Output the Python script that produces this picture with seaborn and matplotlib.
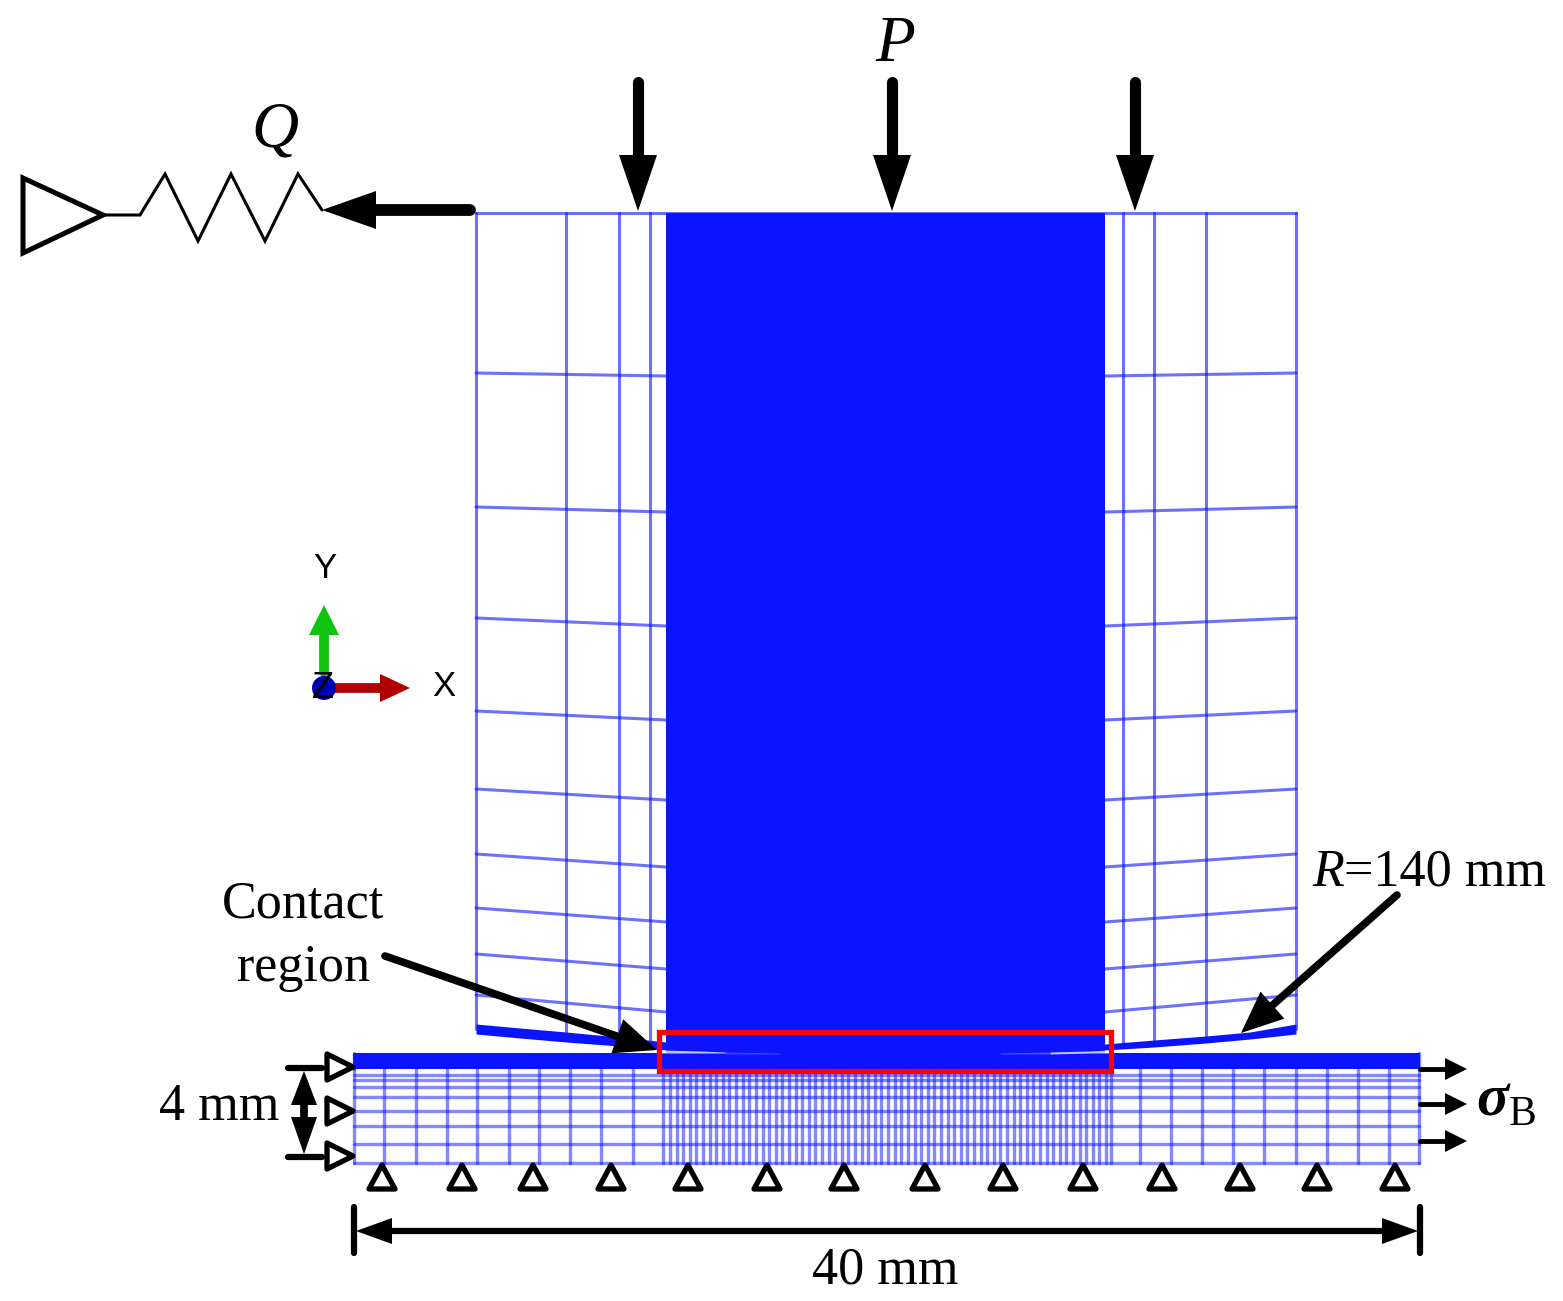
#fe model sketch: cylinder on plate, fretting setup
import numpy as np
import pandas as pd
import seaborn as sns
import matplotlib.pyplot as plt
from matplotlib.patches import Polygon, Rectangle, Circle

# cylinder mesh (pixel positions)
cyl_left_x = [476, 566, 619, 650, 666]
cyl_right_x = [1105, 1123, 1154, 1206, 1296]
cyl_left_bottom = [1029, 1036, 1041, 1044, 1046]
cyl_right_bottom = [1046, 1044, 1042, 1038, 1029]
cyl_rows_outer = [373, 507, 618, 711, 789, 854, 908, 954, 995]
cyl_rows_inner = [376, 512, 626, 720, 800, 867, 922, 969, 1012]
cyl_top = 213

band_x = [476, 520, 566, 619, 666, 690, 740, 1040, 1105, 1154, 1206, 1250, 1296]
band_top = [1024, 1028, 1032, 1037, 1042, 1046, 1049, 1049, 1044, 1040, 1036, 1032, 1024]
band_bottom = [1034, 1038, 1042, 1046, 1050, 1052, 1053, 1053, 1050, 1047, 1043, 1039, 1034]

# plate mesh
plate_rows = [1053, 1069, 1075, 1080, 1087, 1097, 1111, 1126, 1144, 1163]
plate_cols_left = [354, 384, 416, 447, 477, 509, 539, 570, 601, 633]
plate_cols_fine = [663, 670, 677, 683, 690, 696, 703, 710, 716, 723, 729, 736, 743, 749, 756,
                   763, 769, 776, 782, 789, 796, 802, 809, 815, 822, 829, 835, 842, 848, 855,
                   862, 868, 875, 881, 888, 895, 901, 908, 915, 921, 928, 934, 941, 948, 954,
                   961, 967, 974, 981, 987, 994, 1000, 1007, 1014, 1020, 1027, 1033, 1040, 1047,
                   1053, 1060, 1066, 1073, 1080, 1086, 1093, 1099, 1106, 1111]
plate_cols_right = [1140, 1171, 1202, 1233, 1264, 1296, 1327, 1358, 1389, 1419]

# supports and loads
bottom_supports = [382, 462, 533, 611, 688, 767, 844, 925, 1003, 1083, 1162, 1240, 1317, 1395]
left_supports = [1067, 1111, 1156]
stress_arrows = [1069, 1104, 1141]
load_arrows = [638, 892, 1135]
spring_x = [103, 140, 165, 198, 231, 265, 298, 322]
spring_y = [215, 215, 174, 241, 174, 241, 174, 210]

BLUE = '#0b14ff'

sns.set_theme(style='white')
plt.rcParams['font.family'] = ['Liberation Serif', 'DejaVu Serif']
plt.rcParams['text.color'] = 'black'

fig = plt.figure(figsize=(15.63, 13.01), dpi=100)
ax = fig.add_axes([0, 0, 1, 1])
ax.set_xlim(0, 1563)
ax.set_ylim(1301, 0)
ax.axis('off')


def draw_mesh(segments, lw=1.8, alpha=0.6):
    # segments = list of (x0, y0, x1, y1), one seaborn call with units
    rows = []
    for i, (x0, y0, x1, y1) in enumerate(segments):
        rows.append({'x': x0, 'y': y0, 'seg': i})
        rows.append({'x': x1, 'y': y1, 'seg': i})
    df = pd.DataFrame(rows)
    sns.lineplot(data=df, x='x', y='y', units='seg', estimator=None, sort=False, color=BLUE,
                 linewidth=lw, alpha=alpha, legend=False, ax=ax, zorder=1)


def arrow(x0, y0, x1, y1, lw, head_len, head_half, color='black', z=6):
    # line with a filled triangle head that ends at (x1, y1)
    d = np.array([x1 - x0, y1 - y0], dtype=float)
    d = d / np.hypot(*d)
    n = np.array([-d[1], d[0]])
    tip = np.array([x1, y1], dtype=float)
    base = tip - d * head_len
    ax.plot([x0, base[0]], [y0, base[1]], color=color, lw=lw, solid_capstyle='round', zorder=z)
    ax.add_patch(Polygon([tip, base + n * head_half, base - n * head_half], closed=True,
                         fc=color, ec='none', zorder=z))


# cylinder
segs = []
for x, yb in zip(cyl_left_x[:-1], cyl_left_bottom[:-1]):
    segs.append((x, cyl_top, x, yb))
for x, yb in zip(cyl_right_x[1:], cyl_right_bottom[1:]):
    segs.append((x, cyl_top, x, yb))
segs.append((476, cyl_top, 1296, cyl_top))
for a, b in zip(cyl_rows_outer, cyl_rows_inner):
    segs.append((476, a, 666, b))
    segs.append((1105, b, 1296, a))
draw_mesh(segs, lw=2.2, alpha=0.6)
ax.add_patch(Rectangle((666, 213), 439, 840, fc=BLUE, ec='none', zorder=2))
ax.fill_between(band_x, band_top, band_bottom, color=BLUE, lw=0, zorder=2)

# plate
ax.add_patch(Rectangle((353, 1053), 1067, 16, fc=BLUE, ec='none', zorder=2))
segs = []
for y in plate_rows[2:]:
    segs.append((354, y, 1419, y))
for x in plate_cols_left + plate_cols_fine + plate_cols_right:
    segs.append((x, 1069, x, 1163))
segs.append((354, 1053, 354, 1069))
segs.append((1419, 1053, 1419, 1069))
draw_mesh(segs, lw=2.4, alpha=0.5)

# contact gap, fades towards the middle
ax.fill_between([660, 700, 725], [1050, 1051, 1052], [1053, 1053, 1053], color='white', alpha=0.75, lw=0, zorder=3)
ax.fill_between([725, 780], [1052, 1053], [1054, 1054], color='white', alpha=0.2, lw=0, zorder=3)
ax.fill_between([1000, 1050], [1053, 1052], [1054, 1054], color='white', alpha=0.25, lw=0, zorder=3)
ax.fill_between([1050, 1090, 1110], [1052, 1051, 1050], [1054, 1053, 1053], color='white', alpha=0.75, lw=0, zorder=3)

# contact region box
ax.add_patch(Rectangle((659, 1032), 452, 39, fc='none', ec='#ff0000', lw=3.8, zorder=5, joinstyle='miter'))

# spring + fixed end
ax.add_patch(Polygon([(23, 178), (23, 253), (103, 215)], closed=True, fc='white', ec='black', lw=3.6, zorder=4))
ax.plot(spring_x, spring_y, color='black', lw=2.2, solid_joinstyle='miter', zorder=4)

# loads
for x in load_arrows:
    arrow(x, 82, x, 211, 8, 56, 19)
arrow(470, 210, 322, 210, 8.5, 54, 19)
arrow(385, 956, 657, 1050, 5.5, 42, 18)
arrow(1397, 895, 1241, 1033, 5.5, 42, 18)

# supports
for y in left_supports:
    ax.add_patch(Polygon([(327, y - 13), (327, y + 13), (353, y)], closed=True, fc='white', ec='black',
                         lw=3.8, joinstyle='round', zorder=6))
for x in bottom_supports:
    ax.add_patch(Polygon([(x - 13, 1189), (x + 13, 1189), (x, 1165)], closed=True, fc='white', ec='black',
                         lw=3.8, joinstyle='round', zorder=6))
for y in stress_arrows:
    arrow(1420, y, 1467, y, 3.5, 22, 11)

# 4 mm dimension
ax.plot([288, 322], [1068, 1068], color='black', lw=4.5, solid_capstyle='round', zorder=6)
ax.plot([288, 322], [1157, 1157], color='black', lw=4.5, solid_capstyle='round', zorder=6)
arrow(304, 1112, 304, 1071, 5.5, 34, 13)
arrow(304, 1112, 304, 1154, 5.5, 37, 13)

# 40 mm dimension
ax.plot([354, 354], [1207, 1253], color='black', lw=4.5, solid_capstyle='round', zorder=6)
ax.plot([1420, 1420], [1207, 1253], color='black', lw=4.5, solid_capstyle='round', zorder=6)
arrow(887, 1231, 356, 1231, 4.5, 36, 13)
arrow(887, 1231, 1418, 1231, 4.5, 36, 13)

# triad
arrow(324, 672, 324, 605, 7, 30, 15, color='#0ec40e', z=4)
arrow(335, 688, 410, 688, 7, 30, 14, color='#b00000', z=4)
ax.add_patch(Circle((324, 688), 12, fc='#0000b4', ec='none', zorder=5))

# labels
ax.text(895, 45, 'P', style='italic', fontsize=47, ha='center', va='center')
ax.text(275, 131, 'Q', style='italic', fontsize=47, ha='center', va='center')
ax.text(303, 904, 'Contact', fontsize=37.5, ha='center', va='center')
ax.text(303, 968, 'region', fontsize=37.5, ha='center', va='center')
ax.text(1312, 873, 'R', style='italic', fontsize=37.5, ha='left', va='center')
ax.text(1344, 873, '=140 mm', fontsize=37.5, ha='left', va='center')
ax.text(219, 1107, '4 mm', fontsize=37.5, ha='center', va='center')
ax.text(885, 1270, '40 mm', fontsize=37.5, ha='center', va='center')
ax.text(1476, 1102, '\u03c3', style='italic', weight='bold', fontsize=43, ha='left', va='center')
ax.text(1509, 1115, 'B', fontsize=30, ha='left', va='center')
for s, x, y in [('Y', 325, 568), ('X', 444, 686)]:
    ax.text(x, y, s, family='Liberation Sans', fontsize=25, color='black', ha='center', va='center', zorder=7)
ax.text(323, 688, 'Z', family='Liberation Sans', fontsize=26, color='black', ha='center', va='center', zorder=7)

fig.savefig('out.png', dpi=100)
